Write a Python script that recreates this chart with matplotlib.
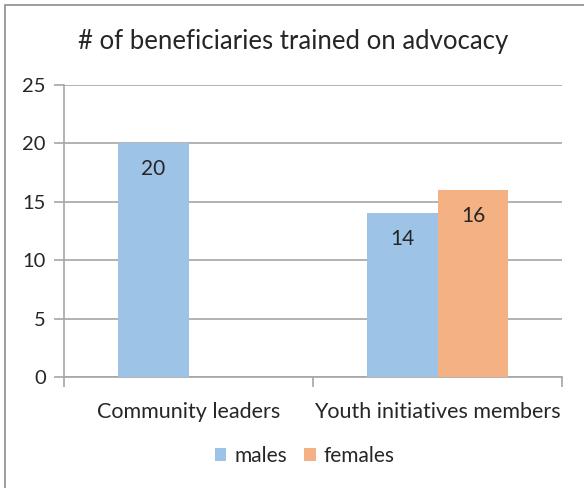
import matplotlib
matplotlib.use("Agg")
import matplotlib.pyplot as plt
import numpy as np
from matplotlib.patches import Rectangle

## data
categories = ["Community leaders", "Youth initiatives members"]
males = [20, 14]
females = [0, 16]
y_ticks = [0, 5, 10, 15, 20, 25]

blue = "#9DC3E6"
orange = "#F4B183"
grid_col = "#A6A6A6"
text_col = "#262626"

plt.rcParams["font.family"] = ["Lato", "DejaVu Sans"]

fig = plt.figure(figsize=(5.84, 4.88), dpi=100)
ax = fig.add_axes([64 / 584, 1 - 377 / 488, 498 / 584, 292 / 488])

x = np.arange(len(categories))
w = 0.285

bars_m = ax.bar(x - w / 2, males, w, color=blue, zorder=3, label="males")
bars_f = ax.bar(x + w / 2, females, w, color=orange, zorder=3, label="females")

# value labels just inside the top of each bar
for bars in (bars_m, bars_f):
    for b in bars:
        h = b.get_height()
        if h <= 0:
            continue
        ax.annotate(str(h), (b.get_x() + b.get_width() / 2, h),
                    xytext=(0, -11.5), textcoords="offset points",
                    ha="center", va="top", fontsize=15, color=text_col)

ax.set_xlim(-0.5, 1.5)
ax.set_ylim(0, 25)
ax.set_yticks(y_ticks)
ax.yaxis.grid(True, color=grid_col, linewidth=1.2, zorder=0)
ax.set_axisbelow(True)

# category ticks sit on the category boundaries
ax.set_xticks([-0.5, 0.5, 1.5])
ax.set_xticklabels([])
ax.set_xticks(x, minor=True)
ax.set_xticklabels(categories, minor=True, fontsize=15.5, color=text_col)
ax.tick_params(axis="x", which="major", length=7, color=grid_col, width=1.2)
ax.tick_params(axis="x", which="minor", length=0, pad=18)
ax.tick_params(axis="y", length=7, color=grid_col, width=1.2, labelsize=14.5,
               labelcolor=text_col, pad=6)

for s in ("top", "right"):
    ax.spines[s].set_visible(False)
for s in ("left", "bottom"):
    ax.spines[s].set_color(grid_col)
    ax.spines[s].set_linewidth(1.2)

fig.text(293 / 584, 1 - 42 / 488, "# of beneficiaries trained on advocacy",
         ha="center", va="center", fontsize=18.5, color=text_col)

fig.legend(handles=[bars_m, bars_f], labels=["males", "females"],
           loc="center", bbox_to_anchor=(0.522, 1 - 456 / 488), ncol=2,
           frameon=False, fontsize=15, handlelength=0.55, handleheight=0.55,
           handletextpad=0.4, columnspacing=0.8, labelcolor=text_col)

# chart frame
fig.patches.append(Rectangle((5 / 584, -0.1), 1.2, 1 - 5 / 488 + 0.1,
                             transform=fig.transFigure, fill=False,
                             edgecolor="#8C8C8C", linewidth=1.2))

fig.savefig("out.png", dpi=100)
